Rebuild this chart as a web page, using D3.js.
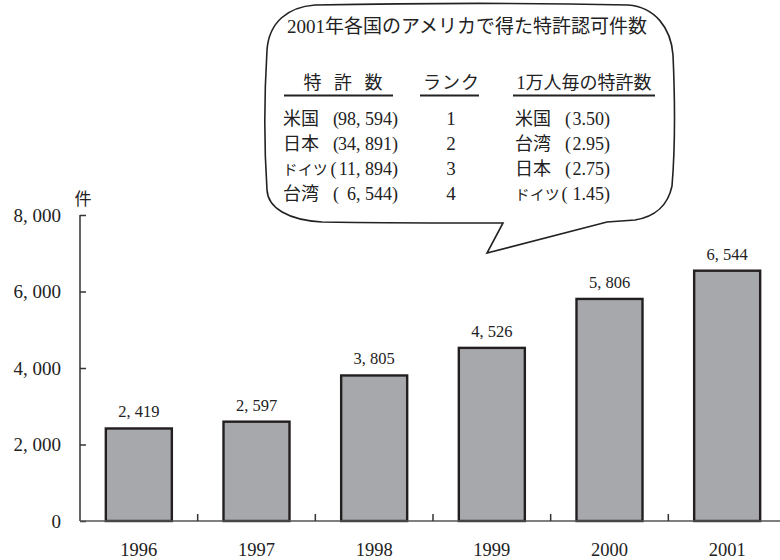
<!DOCTYPE html>
<html>
<head>
<meta charset="utf-8">
<script src="https://cdn.jsdelivr.net/npm/d3@7/dist/d3.min.js"></script>
<style>
  html, body { margin: 0; padding: 0; background: #fff; }
  svg text { font-family: "Liberation Serif", "Noto Sans CJK JP", serif; fill: #222; }
</style>
</head>
<body>
<svg id="chart" width="780" height="560"></svg>
<script>
// Annual US patents granted (件)
const years = ["1996", "1997", "1998", "1999", "2000", "2001"];
const counts = [2419, 2597, 3805, 4526, 5806, 6544];
const yTicks = [0, 2000, 4000, 6000, 8000];

// Callout table: 2001 patents by country
const calloutTitle = "2001年各国のアメリカで得た特許認可件数";
const tableHeaders = ["特 許 数", "ランク", "1万人毎の特許数"];
const countries = ["米国", "日本", "ドイツ", "台湾"];
const patents2001 = [98594, 34891, 11894, 6544];
const ranks = [1, 2, 3, 4];
const perCapitaCountries = ["米国", "台湾", "日本", "ドイツ"];
const perCapitaValues = [3.50, 2.95, 2.75, 1.45];

const svg = d3.select("#chart");
const fmt = v => d3.format(",")(v).replace(",", ", ");

const x = d3.scaleBand().domain(years).range([80, 786])
  .paddingInner(0.439).paddingOuter(0.2195);
const y = d3.scaleLinear().domain([0, 8000]).range([521, 215]);

// Bars
svg.append("g").selectAll("rect").data(counts).join("rect")
  .attr("x", (d, i) => x(years[i]))
  .attr("y", d => y(d))
  .attr("width", x.bandwidth())
  .attr("height", d => y(0) - y(d))
  .attr("fill", "#a7a8ac")
  .attr("stroke", "#231f20")
  .attr("stroke-width", 2.4);

// Value labels
svg.append("g").selectAll("text").data(counts).join("text")
  .attr("x", (d, i) => x(years[i]) + x.bandwidth() / 2)
  .attr("y", d => y(d) - 11)
  .attr("text-anchor", "middle")
  .attr("font-size", 16.5)
  .text(d => fmt(d));

// Y axis
const yAxis = svg.append("g").attr("transform", "translate(80,0)")
  .call(d3.axisRight(y).tickValues(yTicks).tickSize(6).tickFormat(""));
yAxis.select(".domain").remove();
yAxis.selectAll("line").attr("stroke", "#333").attr("stroke-width", 1.5);
svg.append("line").attr("x1", 80).attr("x2", 80)
  .attr("y1", y(8000)).attr("y2", y(0))
  .attr("stroke", "#333").attr("stroke-width", 1.5);
svg.append("g").selectAll("text").data(yTicks).join("text")
  .attr("x", 61).attr("y", d => y(d) + 6.5)
  .attr("text-anchor", "end")
  .attr("font-size", 19)
  .text(d => d === 0 ? "0" : fmt(d));
svg.append("text").attr("x", 83).attr("y", 205)
  .attr("text-anchor", "middle").attr("font-size", 17).text("件");

// X axis with ticks between categories
svg.append("line").attr("x1", 80).attr("x2", 780)
  .attr("y1", y(0)).attr("y2", y(0))
  .attr("stroke", "#555").attr("stroke-width", 1.5);
const boundaries = years.slice(1).map(d => x(d) - x.step() * x.paddingInner() / 2);
svg.append("g").selectAll("line").data(boundaries).join("line")
  .attr("x1", d => d).attr("x2", d => d)
  .attr("y1", y(0)).attr("y2", y(0) - 7)
  .attr("stroke", "#333").attr("stroke-width", 1.5);
svg.append("g").selectAll("text").data(years).join("text")
  .attr("x", d => x(d) + x.bandwidth() / 2)
  .attr("y", 556)
  .attr("text-anchor", "middle")
  .attr("font-size", 18.5)
  .text(d => d);

// Speech-bubble callout
const bubble = d3.path();
bubble.moveTo(315, 5);
bubble.bezierCurveTo(420, 3, 540, 3, 628, 5);
bubble.bezierCurveTo(655, 7, 671, 28, 673, 55);
bubble.bezierCurveTo(675, 100, 675, 150, 672, 186);
bubble.bezierCurveTo(668, 205, 655, 217, 635, 220);
bubble.lineTo(607, 222);
bubble.lineTo(487, 253);
bubble.lineTo(503, 223);
bubble.bezierCurveTo(440, 223, 380, 223, 322, 222);
bubble.bezierCurveTo(288, 220, 268, 208, 267, 190);
bubble.bezierCurveTo(264, 145, 264, 100, 267, 50);
bubble.bezierCurveTo(269, 22, 288, 7, 315, 5);
bubble.closePath();
svg.append("path").attr("d", bubble.toString())
  .attr("fill", "#fff").attr("stroke", "#222").attr("stroke-width", 1.6);

svg.append("text").attr("x", 467).attr("y", 33)
  .attr("text-anchor", "middle").attr("font-size", 19).text(calloutTitle);

// Table headers with underlines
const headerCols = [
  { cx: 343, x1: 284, x2: 393, ls: 4 },
  { cx: 451, x1: 420, x2: 479, ls: 1 },
  { cx: 584, x1: 513, x2: 655, ls: 0 }
];
svg.append("g").selectAll("text").data(tableHeaders).join("text")
  .attr("x", (d, i) => headerCols[i].cx + headerCols[i].ls / 2).attr("y", 89)
  .attr("text-anchor", "middle").attr("font-size", 18)
  .attr("letter-spacing", (d, i) => headerCols[i].ls)
  .text(d => d);
svg.append("g").selectAll("line").data(headerCols).join("line")
  .attr("x1", d => d.x1).attr("x2", d => d.x2)
  .attr("y1", 95.5).attr("y2", 95.5)
  .attr("stroke", "#222").attr("stroke-width", 2.2);

// Katakana names use a smaller, narrower setting than the kanji names
const nameText = (sel, x0) => sel.append("text").attr("x", x0)
  .attr("font-size", d => d.length === 3 ? 14.5 : 18)
  .attr("letter-spacing", d => d.length === 3 ? 0.5 : 0)
  .text(d => d);

const rowY = d3.scalePoint().domain(d3.range(countries.length)).range([125, 200]);

// Patent counts and rank
const rows = svg.append("g").selectAll("g").data(countries).join("g")
  .attr("transform", (d, i) => `translate(0,${rowY(i)})`)
  .attr("font-size", 18);
nameText(rows, 283);
rows.append("text").attr("x", d => d.length === 3 ? 330.5 : 333).text("(");
rows.append("text").attr("x", 398).attr("text-anchor", "end")
  .text((d, i) => fmt(patents2001[i]) + ")");
rows.append("text").attr("x", 451).attr("text-anchor", "middle")
  .attr("font-size", 19)
  .text((d, i) => ranks[i]);

// Patents per 10,000 people
const rows2 = svg.append("g").selectAll("g").data(perCapitaCountries).join("g")
  .attr("transform", (d, i) => `translate(0,${rowY(i)})`)
  .attr("font-size", 18);
nameText(rows2, 515);
rows2.append("text").attr("x", d => d.length === 3 ? 561.5 : 565).text("(");
rows2.append("text").attr("x", 610).attr("text-anchor", "end")
  .text((d, i) => perCapitaValues[i].toFixed(2) + ")");
</script>
</body>
</html>
